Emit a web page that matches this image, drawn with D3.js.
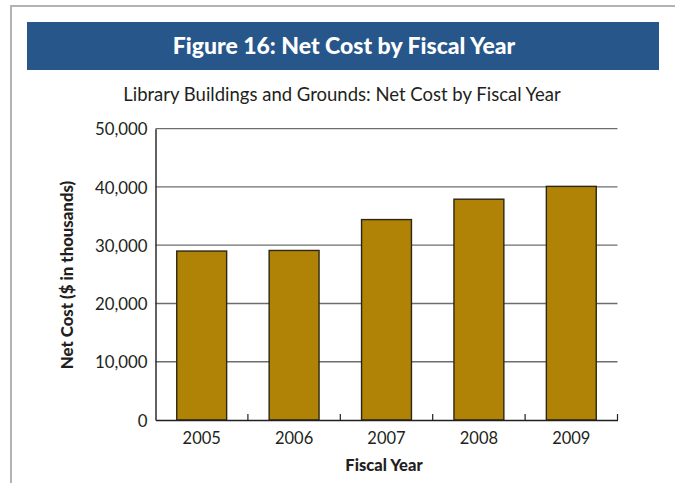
<!DOCTYPE html>
<html>
<head>
<meta charset="utf-8">
<script src="https://cdn.jsdelivr.net/npm/d3@7"></script>
<style>
  html, body { margin: 0; padding: 0; background: #fff; }
  svg { display: block; }
  text { font-family: Lato, "Noto Sans", sans-serif; fill: #231f20; }
</style>
</head>
<body>
<svg id="chart" width="675" height="483"></svg>
<script>
// Net cost in thousands of dollars, by fiscal year
const years = ["2005", "2006", "2007", "2008", "2009"];
const netCost = [29000, 29100, 34400, 37900, 40100];
const yTicks = [0, 10000, 20000, 30000, 40000, 50000];

const figureTitle = "Figure 16: Net Cost by Fiscal Year";
const chartTitle = "Library Buildings and Grounds: Net Cost by Fiscal Year";
const xTitle = "Fiscal Year";
const yTitle = "Net Cost ($ in thousands)";

const svg = d3.select("#chart");
const W = 675, H = 483;
const plot = { left: 155.5, right: 617.5, top: 128.7, bottom: 420 };

// page frame (top and left rules)
svg.append("line").attr("x1", 10).attr("x2", W).attr("y1", 6).attr("y2", 6)
  .attr("stroke", "#b3b3b3").attr("stroke-width", 2);
svg.append("line").attr("x1", 11).attr("x2", 11).attr("y1", 5).attr("y2", H)
  .attr("stroke", "#b3b3b3").attr("stroke-width", 2);

// title banner
svg.append("rect").attr("x", 27).attr("y", 22).attr("width", 632).attr("height", 48)
  .attr("fill", "#27578a");
svg.append("text").attr("x", 344).attr("y", 54).attr("text-anchor", "middle")
  .style("fill", "#fff").style("font-weight", 900).style("font-size", "23px")
  .text(figureTitle);

svg.append("text").attr("x", 342).attr("y", 101).attr("text-anchor", "middle")
  .style("font-size", "18.5px").text(chartTitle);

const x = d3.scaleBand().domain(years).range([plot.left, plot.right])
  .paddingInner(0.46).paddingOuter(0.23);
const y = d3.scaleLinear().domain([0, 50000]).range([plot.bottom, plot.top]);

// horizontal gridlines
svg.append("g").selectAll("line").data(yTicks.filter(d => d > 0)).join("line")
  .attr("x1", plot.left).attr("x2", plot.right)
  .attr("y1", d => y(d)).attr("y2", d => y(d))
  .attr("stroke", "#6d6d6d").attr("stroke-width", 1.3);

// bars
svg.append("g").selectAll("rect").data(years).join("rect")
  .attr("x", (d, i) => x(d))
  .attr("y", (d, i) => y(netCost[i]))
  .attr("width", x.bandwidth())
  .attr("height", (d, i) => y(0) - y(netCost[i]))
  .attr("fill", "#b08306")
  .attr("stroke", "#2b2616").attr("stroke-width", 1.4);

// y axis
const yAxis = svg.append("g").attr("transform", `translate(${plot.left},0)`)
  .call(d3.axisLeft(y).tickValues(yTicks).tickFormat(d3.format(",")).tickSize(0).tickPadding(8));
yAxis.select(".domain").attr("stroke", "#231f20").attr("stroke-width", 1.4);
yAxis.selectAll("text").style("font-size", "16.8px").style("font-family", "Lato, sans-serif")
  .attr("fill", "#231f20").attr("dy", "0.36em");

// x axis with separator ticks between categories
const xAxis = svg.append("g").attr("transform", `translate(0,${plot.bottom})`)
  .call(d3.axisBottom(x).tickSize(0).tickPadding(10));
xAxis.select(".domain").attr("stroke", "#231f20").attr("stroke-width", 1.4);
xAxis.selectAll("text").style("font-size", "16.5px").style("font-family", "Lato, sans-serif")
  .attr("fill", "#231f20").attr("dy", "0.85em");
const step = x.step();
svg.append("g").selectAll("line").data(years).join("line")
  .attr("x1", d => x(d) - x.paddingOuter() * step + step)
  .attr("x2", d => x(d) - x.paddingOuter() * step + step)
  .attr("y1", plot.bottom).attr("y2", plot.bottom - 6)
  .attr("stroke", "#231f20").attr("stroke-width", 1.2);

// axis titles
svg.append("text").attr("x", 384).attr("y", 471).attr("text-anchor", "middle")
  .style("font-weight", 900).style("font-size", "16.5px").text(xTitle);
svg.append("text").attr("transform", "translate(73,275) rotate(-90)")
  .attr("text-anchor", "middle")
  .style("font-weight", 900).style("font-size", "16.8px").text(yTitle);
</script>
</body>
</html>
